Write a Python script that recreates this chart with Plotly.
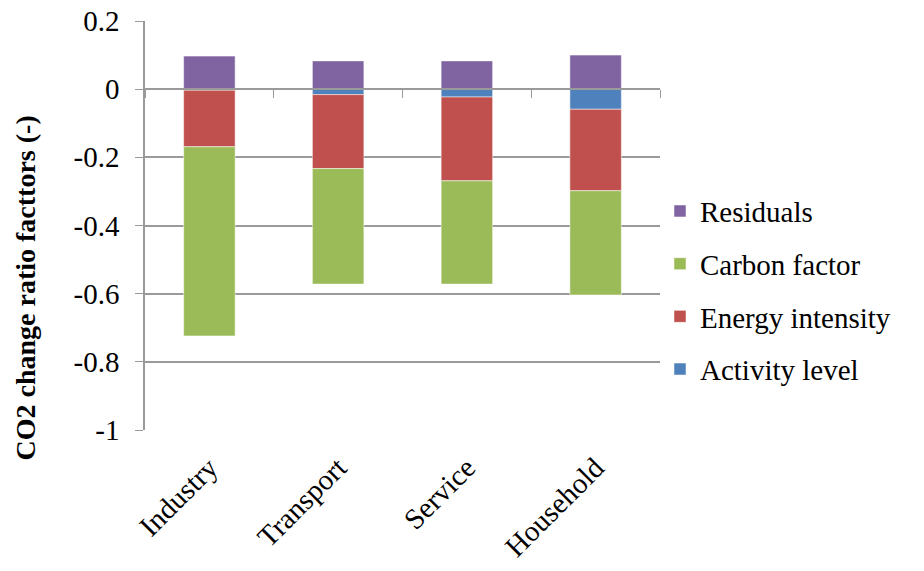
import plotly.graph_objects as go

categories = ["Industry", "Transport", "Service", "Household"]
activity_level = [-0.003, -0.016, -0.023, -0.059]
energy_intensity = [-0.166, -0.217, -0.246, -0.239]
carbon_factor = [-0.555, -0.339, -0.303, -0.306]
residuals = [0.097, 0.083, 0.083, 0.100]

y_tick_vals = [0.2, 0, -0.2, -0.4, -0.6, -0.8, -1]
y_tick_text = ["0.2", "0", "-0.2", "-0.4", "-0.6", "-0.8", "-1"]

# (name, values, colour, legend rank)
series = [
    ("Activity level", activity_level, "#4F81BD", 4),
    ("Energy intensity", energy_intensity, "#C0504D", 3),
    ("Carbon factor", carbon_factor, "#9BBB59", 2),
    ("Residuals", residuals, "#8064A2", 1),
]

FONT = "Liberation Serif"
SIZE = 29
GRID = "#9a9a9a"

fig = go.Figure()
for name, vals, color, rank in series:
    fig.add_trace(go.Bar(
        x=categories, y=vals, name=name, legendgroup=name, legendrank=rank,
        marker=dict(color=color, line=dict(color="rgba(255,255,255,0.5)", width=1)),
    ))

# category axis along the zero line carries the boundary tick marks;
# an empty helper trace keeps the overlaid label axis at the bottom alive
fig.add_trace(go.Scatter(
    x=categories, y=[None] * len(categories), xaxis="x2", mode="markers",
    showlegend=False, hoverinfo="skip",
))

y_min, y_max = -1.0, 0.2
zero_pos = (0 - y_min) / (y_max - y_min)

fig.update_layout(
    width=924, height=571,
    margin=dict(l=145, r=264, t=21, b=141, autoexpand=False),
    paper_bgcolor="white", plot_bgcolor="white",
    barmode="relative", bargap=0.6,
    font=dict(family=FONT, color="#000000", size=SIZE),
    showlegend=True,
    legend=dict(
        traceorder="grouped", x=1.0, y=0.342, xanchor="left", yanchor="middle",
        font=dict(family=FONT, size=SIZE), itemwidth=30, tracegroupgap=12,
        bgcolor="rgba(0,0,0,0)",
    ),
    annotations=[dict(
        text="<b>CO2 change ratio facttors (-)</b>", textangle=-90,
        xref="paper", yref="paper", x=-0.233, y=0.346,
        xanchor="center", yanchor="middle", showarrow=False,
        font=dict(family=FONT, size=28, color="#000000"),
    )],
    xaxis=dict(
        type="category", categoryorder="array", categoryarray=categories,
        range=[-0.5, 3.5], anchor="free", position=zero_pos, automargin=False,
        showline=True, linecolor=GRID, linewidth=1.5,
        ticks="outside", tickson="boundaries", ticklen=8, tickcolor=GRID,
        showticklabels=False, showgrid=False, zeroline=False,
    ),
    xaxis2=dict(
        overlaying="x", anchor="y", side="bottom", type="category",
        categoryorder="array", categoryarray=categories, automargin=False,
        range=[-0.5, 3.5], tickangle=-45, showline=False, showgrid=False,
        zeroline=False, ticks="", ticklabelstandoff=14,
        tickfont=dict(family=FONT, size=SIZE),
    ),
    yaxis=dict(
        range=[y_min, y_max], tickmode="array", tickvals=y_tick_vals, ticktext=y_tick_text,
        automargin=False,
        showgrid=True, gridcolor=GRID, gridwidth=1.5, zeroline=False,
        showline=True, linecolor=GRID, linewidth=1.5,
        ticks="outside", ticklen=8, tickcolor=GRID, ticklabelstandoff=10,
        tickfont=dict(family=FONT, size=SIZE),
    ),
)

fig.write_html("out.html")
